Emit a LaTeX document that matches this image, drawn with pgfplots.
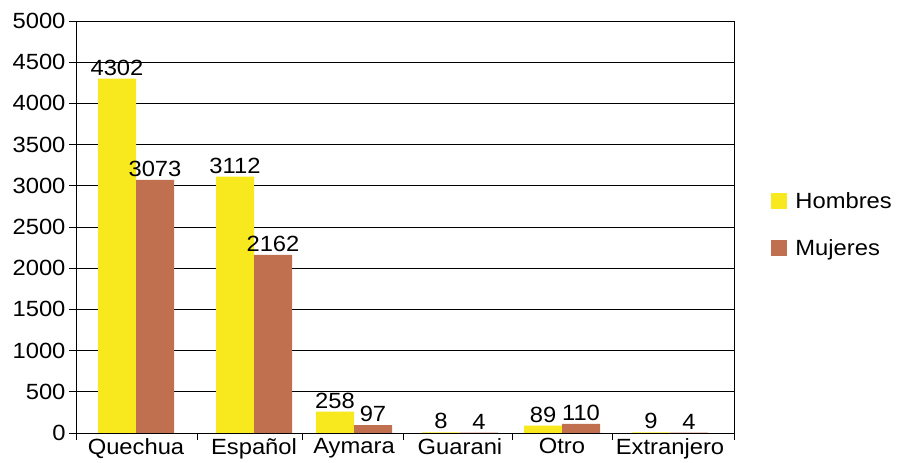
\documentclass[border=0pt]{standalone}
\usepackage{pgfplots}
\pgfplotsset{compat=1.18}
\usepackage{fontspec}
\setmainfont{Liberation Sans}[FakeStretch=1.08]
\definecolor{hombres}{HTML}{F7E91E}
\definecolor{mujeres}{HTML}{C0704F}
\newcommand{\chartfont}{\fontsize{22}{26}\selectfont}
\pgfkeys{/pgf/number format/set thousands separator={}}

\begin{document}
\begin{tikzpicture}
\useasboundingbox (0,0) rectangle (897pt,463pt);
\begin{axis}[
  at={(76pt,30pt)}, anchor=south west,
  scale only axis, width=658pt, height=412pt,
  xmin=76, xmax=734, ymin=0, ymax=5000,
  ybar, bar width=38pt,
  clip=false,
  axis line style={line width=0.9pt},
  tick style={line width=0.9pt, black},
  tick align=outside, major tick length=7pt,
  xtick pos=bottom, ytick pos=left,
  ytick={0,500,...,5000},
  ymajorgrids, grid style={black, line width=0.8pt},
  yticklabel style={/pgf/number format/.cd, assume math mode=true, set thousands separator={}},
  xtick={76,197,302,403,512,612,734}, xticklabels={},
  extra x ticks={136,254,354,460,562,670},
  extra x tick labels={Quechua,Español,Aymara,Guarani,Otro,Extranjero},
  extra x tick style={major tick length=0pt, grid=none,
    xticklabel style={yshift=-2pt}},
  tick label style={font=\chartfont},
  nodes near coords,
  every node near coord/.append style={font=\chartfont, black, inner sep=3pt,
    /pgf/number format/assume math mode=true,
    /pgf/number format/set thousands separator={}},
  legend style={draw=none, fill=none, font=\chartfont,
    at={(1.052,0.506)}, anchor=west, row sep=26pt, column sep=6pt},
  legend cell align=left,
  legend image code/.code={\fill[#1] (0pt,-8pt) rectangle (16pt,8pt);},
]
\addplot[fill=hombres, draw=none, bar shift=-19pt] coordinates {
  (136,4302) (254,3112) (354,258) (460,8) (562,89) (670,9)
};
\addlegendentry{Hombres}
\addplot[fill=mujeres, draw=none, bar shift=19pt] coordinates {
  (136,3073) (254,2162) (354,97) (460,4) (562,110) (670,4)
};
\addlegendentry{Mujeres}
\end{axis}
\end{tikzpicture}
\end{document}
